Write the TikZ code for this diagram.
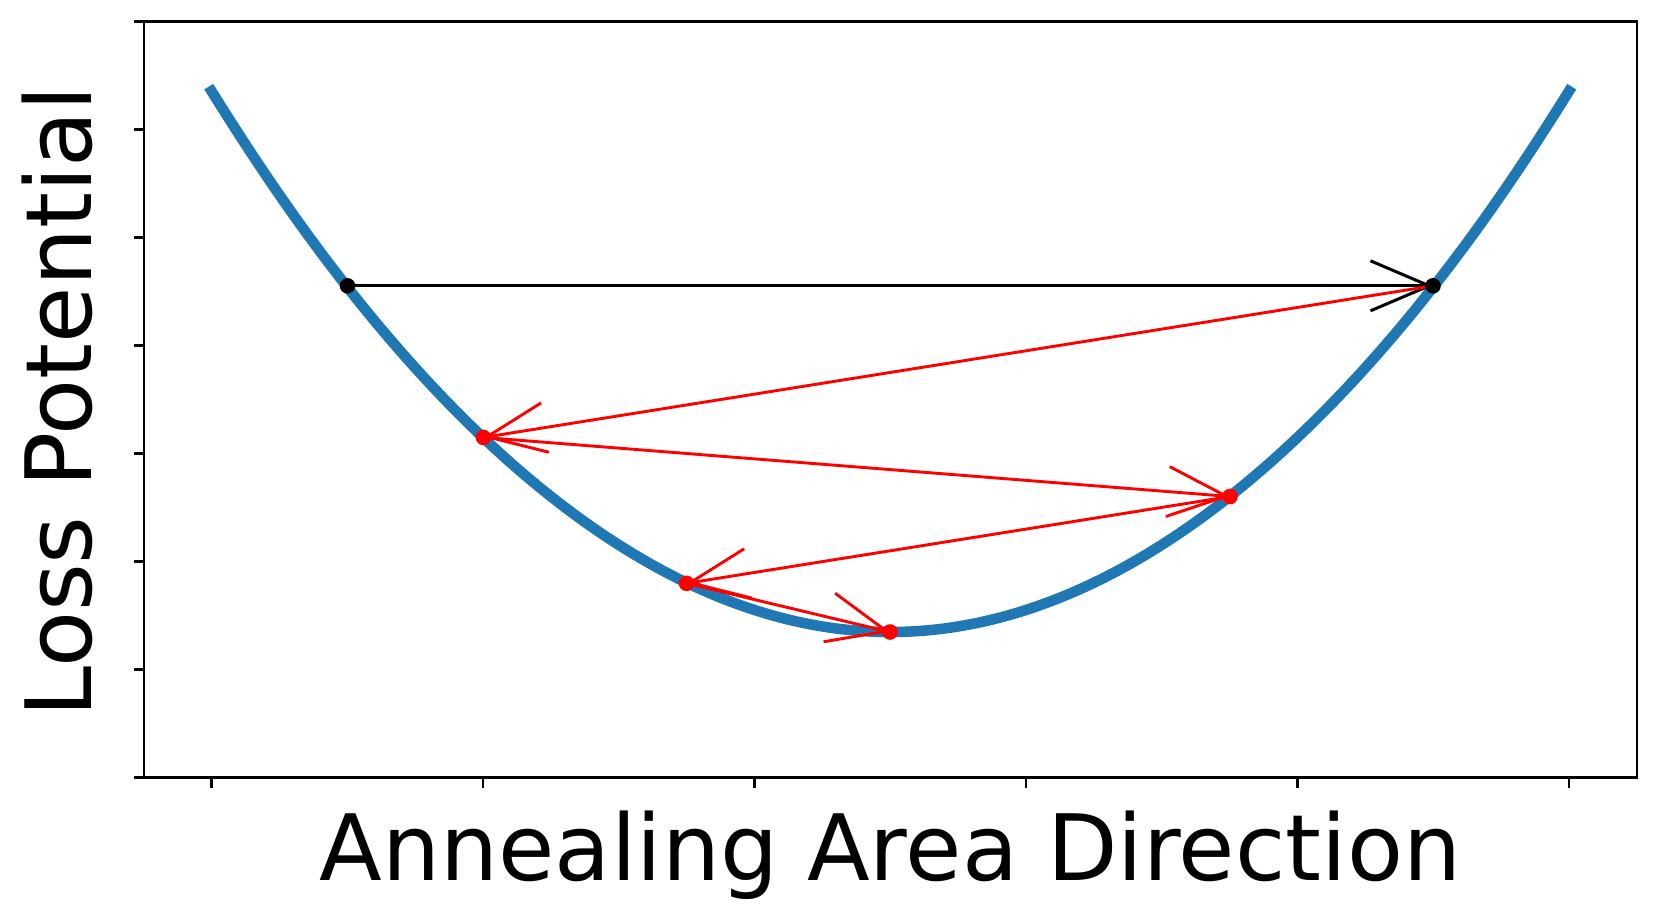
\documentclass[tikz,border=0pt]{standalone}
\usepackage{fontspec}
\setmainfont{DejaVu Sans}
\usetikzlibrary{arrows.meta}
\definecolor{mplblue}{HTML}{1F77B4}
\begin{document}
\begin{tikzpicture}[x=0.5pt,y=-0.5pt,
  spine/.style={line width=1.35pt, black},
  tickmark/.style={line width=1.3pt, black},
  curve/.style={line width=5.25pt, mplblue, line cap=rect},
  blkarrow/.style={line width=1.5pt, black, -{Straight Barb[length=29.35pt,width=25pt]}},
  redarrow/.style={line width=1.45pt, red, -{Straight Barb[length=29.35pt,width=25pt]}},
  bdot/.style={circle, fill=black, inner sep=0pt, minimum size=7.8pt},
  rdot/.style={circle, fill=red, inner sep=0pt, minimum size=7.8pt},
  lbl/.style={font=\fontsize{45.8}{50}\selectfont, anchor=base, inner sep=0pt}]
\useasboundingbox (0,0) rectangle (1659,922);
% axes
\draw[spine] (144,21.5) rectangle (1637,777.5);
\foreach \k in {0,...,7} \draw[tickmark] (133.5,{21.5+108*\k}) -- (144,{21.5+108*\k});
\foreach \k in {0,...,5} \draw[tickmark] ({211.5+271.5*\k},777.5) -- ({211.5+271.5*\k},788);
% curve
\draw[curve] (211.5,91.1) parabola bend (890.25,632) (1569,91.1);
% points
\coordinate (s0) at (347.5,285.8);
\coordinate (s1) at (1433,285.8);
\coordinate (r1) at (483.4,437.4);
\coordinate (r2) at (1230,496.5);
\coordinate (r3) at (686.5,583.3);
\coordinate (r4) at (890,632);
% connectors
\draw[blkarrow] (s0) -- (s1);
\draw[redarrow] (s1) -- (r1);
\draw[redarrow] (r1) -- (r2);
\draw[redarrow] (r2) -- (r3);
\draw[redarrow] (r3) -- (r4);
% dots
\node[bdot] (d0) at (s0) {};
\node[bdot] (d1) at (s1) {};
\node[rdot] (d2) at (r1) {};
\node[rdot] (d3) at (r2) {};
\node[rdot] (d4) at (r3) {};
\node[rdot] (d5) at (r4) {};
% labels
\node[lbl] (xlabel) at (890.4,880.7) {Annealing Area Direction};
\node[lbl, rotate=90] (ylabel) at (91.7,401.6) {Loss Potential};
\end{tikzpicture}
\end{document}
